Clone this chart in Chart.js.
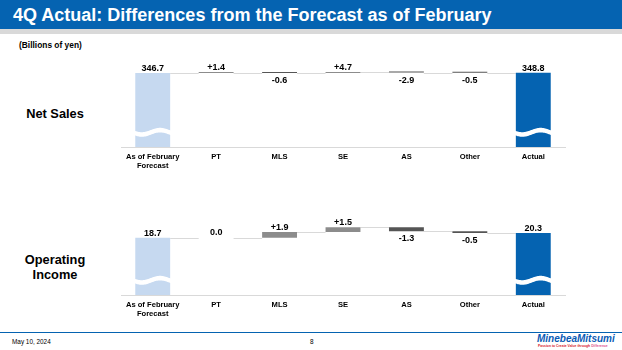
<!DOCTYPE html>
<html>
<head>
<meta charset="utf-8">
<script src="https://cdn.jsdelivr.net/npm/chart.js@4.4.1/dist/chart.umd.min.js"></script>
<style>
  html, body { margin: 0; padding: 0; background: #fff; }
  body { width: 622px; height: 350px; position: relative; overflow: hidden;
         font-family: "Liberation Sans", Arial, sans-serif; color: #000; }
  .title-bar { position: absolute; left: 0; top: 0; width: 622px; height: 29px; background: #0563b1; }
  .title-bar span { position: absolute; left: 13px; top: 5px; color: #fff; font-weight: bold; font-size: 18px; line-height: 20px; white-space: nowrap; }
  .title-strip { position: absolute; left: 0; top: 29px; width: 622px; height: 5px; background: #d9d9d9; }
  .unit { position: absolute; left: 19px; top: 40px; font-size: 8.4px; font-weight: bold; white-space: nowrap; }
  .row-label { position: absolute; width: 110px; text-align: center; font-weight: bold; font-size: 12.8px; line-height: 15px; }
  canvas { position: absolute; left: 0; }
  .footer-line { position: absolute; left: 0; top: 332px; width: 622px; height: 1px; background: #0563b1; }
  .date { position: absolute; left: 12px; top: 338px; font-size: 6.4px; white-space: nowrap; }
  .page { position: absolute; left: 310px; top: 338px; font-size: 6.4px; }
  .logo { position: absolute; left: 537px; top: 334px; font-size: 10px; font-weight: bold; font-style: italic; color: #0a5bb5; white-space: nowrap; line-height: 10px; }
  .tagline { position: absolute; left: 538px; top: 344px; font-size: 3.4px; font-weight: bold; color: #d7192a; white-space: nowrap; }
  .tagline b { color: #e0558f; }
</style>
</head>
<body>
<div class="title-bar"><span>4Q Actual: Differences from the Forecast as of February</span></div>
<div class="title-strip"></div>
<div class="unit">(Billions of yen)</div>

<div class="row-label" style="left:0; top:106px;">Net Sales</div>
<div class="row-label" style="left:0; top:252px;">Operating<br>Income</div>

<canvas id="salesChart" width="622" height="130" style="top:50px;"></canvas>
<canvas id="incomeChart" width="622" height="118" style="top:210px;"></canvas>

<div class="footer-line"></div>
<div class="date">May 10, 2024</div>
<div class="page">8</div>
<div class="logo">MinebeaMitsumi</div>
<div class="tagline">Passion to Create Value through <b>Difference</b></div>

<script>
// Kategoriat ja erotukset (mrd. jeniä)
const categories = [['As of February', 'Forecast'], 'PT', 'MLS', 'SE', 'AS', 'Other', 'Actual'];
const salesSteps = [346.7, 1.4, -0.6, 4.7, -2.9, -0.5, 348.8];
const incomeSteps = [18.7, 0.0, 1.9, 1.5, -1.3, -0.5, 20.3];
const salesAxisMax = 380;
const incomeAxisMax = 23.2;

const FORECAST_COLOR = '#c6d9f0';
const ACTUAL_COLOR = '#0563b1';
const UP_COLOR = '#8c8c8c';
const DOWN_COLOR = '#555555';
const LINK_COLOR = '#d9d9d9';

// Muutetaan askeleet kelluviksi palkeiksi [alku, loppu]
function toWaterfall(steps) {
  const last = steps.length - 1;
  let level = 0;
  return steps.map((v, i) => {
    if (i === 0 || i === last) {
      level = v;
      return [0, v];
    }
    const start = level;
    level = +(level + v).toFixed(2);
    return [start, level];
  });
}

function barColors(steps) {
  const last = steps.length - 1;
  return steps.map((v, i) => {
    if (i === 0) return FORECAST_COLOR;
    if (i === last) return ACTUAL_COLOR;
    if (v > 0) return UP_COLOR;
    if (v < 0) return DOWN_COLOR;
    return 'rgba(0,0,0,0)';
  });
}

function labelText(v, i, last) {
  if (i === 0 || i === last) return v.toFixed(1);
  if (v > 0) return '+' + v.toFixed(1);
  return v.toFixed(1);
}

// Yhdysviivat, katkoaallot ja arvot palkkien päälle
const waterfallDecor = {
  id: 'waterfallDecor',
  beforeDatasetsDraw(chart) {
    const { ctx } = chart;
    const y = chart.scales.y;
    const bars = chart.getDatasetMeta(0).data;
    const ranges = chart.data.datasets[0].data;
    ctx.save();
    ctx.strokeStyle = LINK_COLOR;
    ctx.lineWidth = 1;
    for (let i = 0; i < bars.length - 1; i++) {
      const level = ranges[i][1];
      const py = Math.round(y.getPixelForValue(level)) + 0.5;
      ctx.beginPath();
      ctx.moveTo(bars[i].x + bars[i].width / 2, py);
      ctx.lineTo(bars[i + 1].x - bars[i + 1].width / 2, py);
      ctx.stroke();
    }
    ctx.restore();
  },
  afterDatasetsDraw(chart) {
    const { ctx } = chart;
    const bars = chart.getDatasetMeta(0).data;
    const steps = chart.options.plugins.waterfallDecor.steps;
    const last = steps.length - 1;
    ctx.save();

    // valkoinen aaltokatko summapalkeissa
    [0, last].forEach(i => {
      const b = bars[i];
      const left = b.x - b.width / 2 - 1;
      const right = b.x + b.width / 2 + 1;
      const c = Math.max(b.y, b.base) - 17;
      const wave = t => c + 2.2 * Math.sin(2 * Math.PI * t + 0.3);
      ctx.beginPath();
      for (let k = 0; k <= 40; k++) {
        const t = k / 40;
        const px = left + (right - left) * t;
        if (k === 0) ctx.moveTo(px, wave(t)); else ctx.lineTo(px, wave(t));
      }
      for (let k = 40; k >= 0; k--) {
        const t = k / 40;
        ctx.lineTo(left + (right - left) * t, wave(t) + 4.6);
      }
      ctx.closePath();
      ctx.fillStyle = '#fff';
      ctx.fill();
    });

    // arvotekstit
    ctx.fillStyle = '#000';
    ctx.font = 'bold 9px "Liberation Sans", Arial, sans-serif';
    ctx.textAlign = 'center';
    ctx.textBaseline = 'alphabetic';
    steps.forEach((v, i) => {
      const b = bars[i];
      const top = Math.min(b.y, b.base);
      const bottom = Math.max(b.y, b.base);
      const txt = labelText(v, i, last);
      if (v < 0 && i !== 0 && i !== last) {
        ctx.fillText(txt, b.x, bottom + 10);
      } else {
        ctx.fillText(txt, b.x, top - 2);
      }
    });
    ctx.restore();
  }
};

function drawWaterfall(canvasId, steps, axisMax, padTop) {
  const ctx = document.getElementById(canvasId).getContext('2d');
  return new Chart(ctx, {
    type: 'bar',
    data: {
      labels: categories,
      datasets: [{
        data: toWaterfall(steps),
        backgroundColor: barColors(steps),
        borderWidth: 0,
        minBarLength: 1,
        barPercentage: 0.55,
        categoryPercentage: 1.0
      }]
    },
    options: {
      responsive: false,
      animation: false,
      layout: { padding: { left: 121, right: 57, top: padTop, bottom: 0 } },
      plugins: {
        legend: { display: false },
        tooltip: { enabled: false },
        waterfallDecor: { steps }
      },
      scales: {
        x: {
          grid: { display: false, drawTicks: false },
          border: { display: true, color: LINK_COLOR, width: 1 },
          ticks: {
            color: '#000',
            padding: 6,
            maxRotation: 0,
            autoSkip: false,
            font: { family: '"Liberation Sans", Arial, sans-serif', size: 7.6, weight: 'bold', lineHeight: 1.1 }
          },
          afterFit(scale) { scale.height = 33; }
        },
        y: { display: false, min: 0, max: axisMax }
      }
    },
    plugins: [waterfallDecor]
  });
}

drawWaterfall('salesChart', salesSteps, salesAxisMax, 16);
drawWaterfall('incomeChart', incomeSteps, incomeAxisMax, 14);
</script>
</body>
</html>
